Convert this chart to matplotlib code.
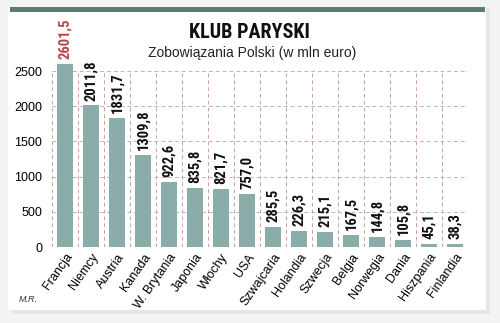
import matplotlib
matplotlib.use("Agg")
import matplotlib.pyplot as plt
from matplotlib.patches import Rectangle

countries = ["Francja", "Niemcy", "Austria", "Kanada", "W. Brytania", "Japonia",
             "Włochy", "USA", "Szwajcaria", "Holandia", "Szwecja", "Belgia",
             "Norwegia", "Dania", "Hiszpania", "Finlandia"]
values = [2601.5, 2011.8, 1831.7, 1309.8, 922.6, 835.8, 821.7, 757.0,
          285.5, 226.3, 215.1, 167.5, 144.8, 105.8, 45.1, 38.3]
yticks = [0, 500, 1000, 1500, 2000, 2500]

title = "KLUB PARYSKI"
subtitle = "Zobowiązania Polski (w mln euro)"
credit = "M.R."

bar_color = "#8badaa"
grid_v = "#c9a3a3"
grid_h = "#b8b8b8"
cond = ["Roboto Condensed", "DejaVu Sans"]
reg = ["Liberation Sans", "DejaVu Sans"]

fig = plt.figure(figsize=(5.0, 3.23), dpi=100)
fig.patch.set_facecolor("#f3f3f3")

# card with soft shadow and header rule
fig.add_artist(Rectangle((12 / 500, 1 - 314 / 323), 478 / 500, 306 / 323,
                         transform=fig.transFigure, facecolor="#e6e6e6",
                         edgecolor="none", zorder=0))
fig.add_artist(Rectangle((8 / 500, 1 - 310 / 323), 478 / 500, 303 / 323,
                         transform=fig.transFigure, facecolor="white",
                         edgecolor="none", zorder=0))
fig.add_artist(Rectangle((10 / 500, 1 - 11.5 / 323), 475 / 500, 4.5 / 323,
                         transform=fig.transFigure, facecolor="#5d7c71",
                         edgecolor="none", zorder=1))

ax = fig.add_axes([52 / 500, 1 - 247 / 323, 416 / 500, 176 / 323])
ax.set_facecolor("none")
x = list(range(len(countries)))
ax.bar(x, values, width=0.58, color=bar_color, zorder=2, clip_on=False)
ax.set_xlim(-0.5, len(countries) - 0.5)
ax.set_ylim(0, 2500)

for y in yticks:
    ax.axhline(y, color=grid_h, lw=0.7, ls=(0, (4, 3)), zorder=1)
for b in [i - 0.5 for i in range(len(countries) + 1)]:
    ax.axvline(b, color=grid_v, lw=0.7, ls=(0, (4, 3)), zorder=1)

for s in ax.spines.values():
    s.set_visible(False)

ax.set_yticks(yticks)
ax.set_yticklabels([str(t) for t in yticks], family=reg, fontsize=9)
ax.tick_params(axis="y", length=0, pad=7)
ax.set_xticks(x)
ax.set_xticklabels(countries, rotation=55, ha="right", rotation_mode="anchor",
                   family=reg, fontsize=9)
ax.tick_params(axis="x", length=0, pad=3)

for i, v in enumerate(values):
    ax.annotate(f"{v:.1f}".replace(".", ","), (i, v), xytext=(0, 3.5),
                textcoords="offset points", rotation=90, ha="center", va="bottom",
                family=cond, fontweight="bold", fontsize=10.5,
                color="#b5474c" if i == 0 else "#111111", annotation_clip=False)

fig.text(249 / 500, 1 - 32 / 323, title, ha="center", va="center",
         family=cond, fontweight="bold", fontsize=14.5, color="#111111")
fig.text(252 / 500, 1 - 53 / 323, subtitle, ha="center", va="center",
         family=reg, fontsize=10, color="#222222")
fig.text(19 / 500, 1 - 300 / 323, credit, ha="left", va="center",
         family=reg, fontstyle="italic", fontsize=6.5, color="#333333")

fig.savefig("out.png", dpi=100, facecolor=fig.get_facecolor())
